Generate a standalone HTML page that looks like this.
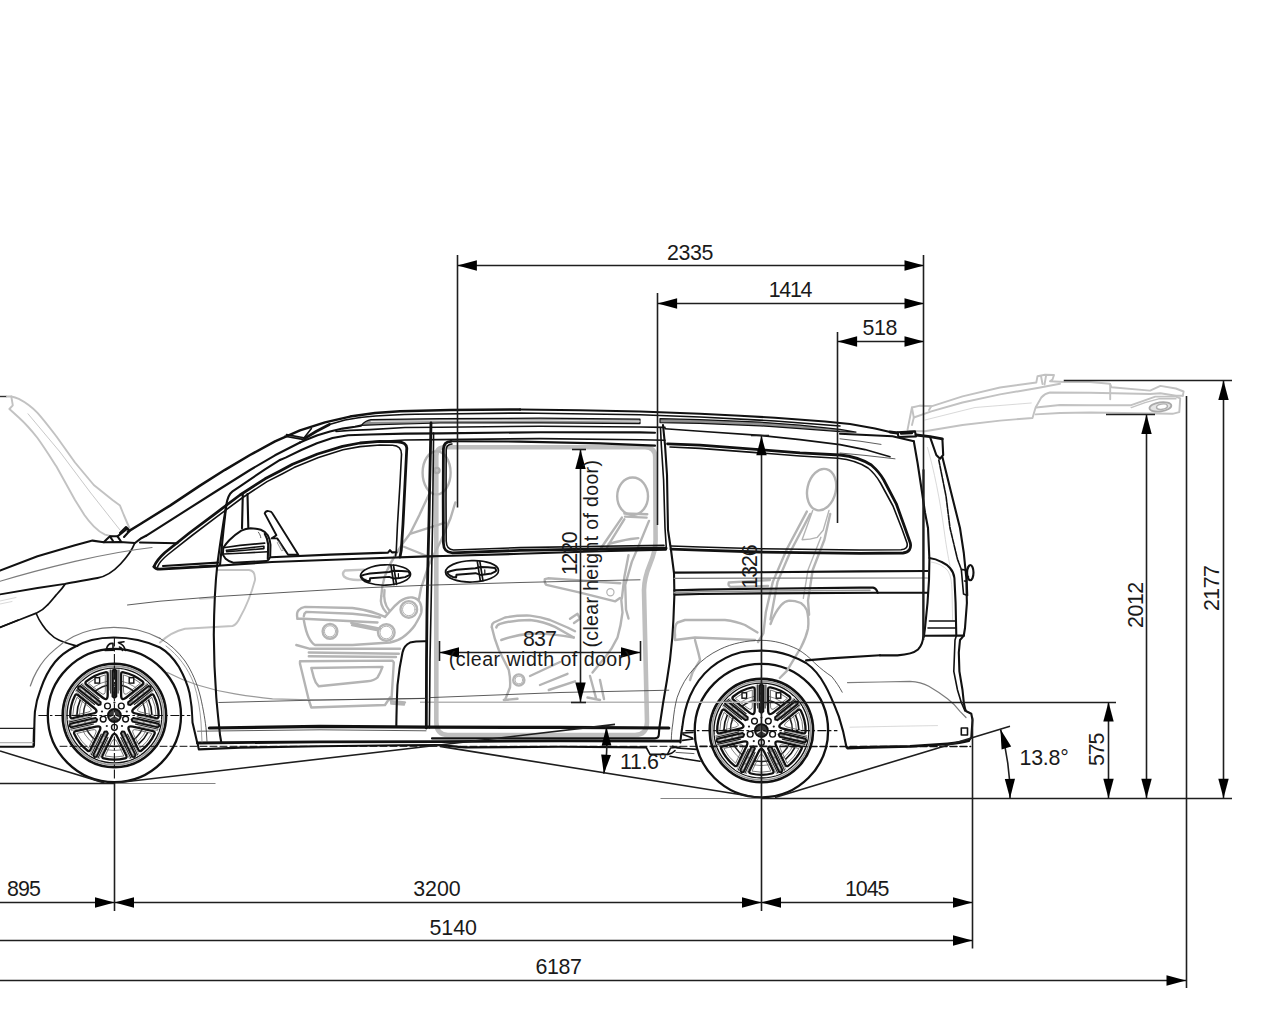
<!DOCTYPE html>
<html lang="en"><head><meta charset="utf-8"><title>Vehicle dimensions</title>
<style>
html,body{margin:0;padding:0;background:#fff;}
body{width:1280px;height:1024px;overflow:hidden;}
svg{display:block;}
text{font-family:"Liberation Sans",sans-serif;font-size:21.4px;fill:#1a1a1a;}
.d{stroke:#1e1e1e;stroke-width:1.6;fill:none;}
.a{fill:#000;stroke:none;}
.k{stroke:#111;fill:none;stroke-width:1.6;stroke-linecap:round;stroke-linejoin:round;}
.k2{stroke:#111;fill:none;stroke-width:2.1;stroke-linecap:round;stroke-linejoin:round;}
.k3{stroke:#111;fill:none;stroke-width:2.8;stroke-linecap:round;stroke-linejoin:round;}
.t{stroke:#333;fill:none;stroke-width:0.8;stroke-linecap:round;stroke-linejoin:round;}
.g{stroke:#c2c2c2;fill:none;stroke-width:1.9;stroke-linecap:round;stroke-linejoin:round;}
.g2{stroke:#c4c4c4;fill:none;stroke-width:2;stroke-linecap:round;stroke-linejoin:round;}
.m{stroke:#7c7c7c;fill:none;stroke-width:1.2;stroke-linecap:round;stroke-linejoin:round;}
.gt{stroke:#cfcfcf;fill:none;stroke-width:0.8;stroke-linecap:round;stroke-linejoin:round;}
</style></head><body>
<svg width="1280" height="1024" viewBox="0 0 1280 1024">
<rect width="1280" height="1024" fill="#fff"/>
<g id="wheels">
<circle cx="114.4" cy="715.5" r="66.6" fill="#fff" stroke="#111" stroke-width="2.3"/>
<circle cx="114.4" cy="715.5" r="31" fill="none" stroke="#222" stroke-width="1.5"/>
<circle cx="114.4" cy="715.5" r="35" fill="none" stroke="#888" stroke-width="1"/>
<circle cx="114.4" cy="715.5" r="51.7" fill="none" stroke="#111" stroke-width="2.6"/>
<circle cx="114.4" cy="715.5" r="49.4" fill="none" stroke="#9a9a9a" stroke-width="1.6"/>
<circle cx="114.4" cy="715.5" r="47.4" fill="none" stroke="#111" stroke-width="1.3"/>
<polygon points="107.7,703.5 107.7,668.9 121.1,668.9 121.1,703.5" fill="#fff" stroke="none"/>
<polygon points="119.6,702.8 146.7,681.2 155.0,691.7 128.0,713.3" fill="#fff" stroke="none"/>
<polygon points="127.6,711.6 161.3,719.3 158.3,732.4 124.6,724.7" fill="#fff" stroke="none"/>
<polygon points="125.6,723.4 140.7,754.6 128.6,760.4 113.6,729.2" fill="#fff" stroke="none"/>
<polygon points="115.2,729.2 100.2,760.4 88.1,754.6 103.2,723.4" fill="#fff" stroke="none"/>
<polygon points="104.2,724.7 70.5,732.4 67.5,719.3 101.2,711.6" fill="#fff" stroke="none"/>
<polygon points="100.8,713.3 73.8,691.7 82.1,681.2 109.2,702.8" fill="#fff" stroke="none"/>
<circle cx="114.4" cy="715.5" r="16.5" fill="#fff" stroke="none"/>
<path d="M121.1,674.2 Q121.1,671.8 123.5,672.3 A44.2,44.2 0 0 1 142.5,681.4 Q144.4,683.0 142.5,684.5 L126.3,697.5 Q121.1,701.6 121.1,695.0 Z" fill="none" stroke="#111" stroke-width="2.3" stroke-linejoin="round"/>
<path d="M123.5,674.9 A41.6,41.6 0 0 1 140.5,683.1 L128.7,692.5 Q123.3,697.0 123.5,690.0 Z" fill="none" stroke="#555" stroke-width="0.8" stroke-linejoin="round"/>
<polygon points="112.5,696.5 112.5,670.5 114.4,669.3 116.3,670.5 116.3,696.5 114.4,697.9" fill="#333" stroke="#111" stroke-width="1.9" stroke-linejoin="round"/>
<line x1="114.4" y1="691.5" x2="114.4" y2="672.5" stroke="#eee" stroke-width="0.9" stroke-dasharray="5 2"/>
<line x1="110.7" y1="693.5" x2="110.7" y2="669.5" stroke="#222" stroke-width="1.1"/>
<line x1="109.2" y1="690.5" x2="109.2" y2="669.5" stroke="#777" stroke-width="0.8"/>
<line x1="118.1" y1="693.5" x2="118.1" y2="669.5" stroke="#222" stroke-width="1.1"/>
<line x1="119.6" y1="690.5" x2="119.6" y2="669.5" stroke="#777" stroke-width="0.8"/>
<path d="M150.9,695.0 Q152.7,693.5 153.9,695.7 A44.2,44.2 0 0 1 158.6,716.2 Q158.5,718.7 156.1,718.2 L135.9,713.5 Q129.4,712.1 134.6,708.0 Z" fill="none" stroke="#111" stroke-width="2.3" stroke-linejoin="round"/>
<path d="M151.8,697.3 A41.6,41.6 0 0 1 156.0,715.7 L141.3,712.3 Q134.4,710.9 140.0,706.7 Z" fill="none" stroke="#555" stroke-width="0.8" stroke-linejoin="round"/>
<polygon points="128.1,702.2 148.4,686.0 150.5,686.7 150.8,688.9 130.4,705.1 128.2,704.5" fill="#888" stroke="#111" stroke-width="1.9" stroke-linejoin="round"/>
<line x1="133.2" y1="700.5" x2="148.0" y2="688.7" stroke="#eee" stroke-width="0.9" stroke-dasharray="5 2"/>
<line x1="129.3" y1="698.9" x2="148.1" y2="683.9" stroke="#222" stroke-width="1.1"/>
<line x1="130.7" y1="695.8" x2="147.1" y2="682.8" stroke="#777" stroke-width="0.8"/>
<line x1="133.9" y1="704.7" x2="152.7" y2="689.7" stroke="#222" stroke-width="1.1"/>
<line x1="137.2" y1="704.0" x2="153.6" y2="690.9" stroke="#777" stroke-width="0.8"/>
<path d="M153.2,731.2 Q155.5,731.8 154.5,734.0 A44.2,44.2 0 0 1 141.4,750.5 Q139.4,752.0 138.4,749.8 L129.3,731.1 Q126.4,725.1 132.9,726.6 Z" fill="none" stroke="#111" stroke-width="2.3" stroke-linejoin="round"/>
<path d="M151.9,733.4 A41.6,41.6 0 0 1 140.2,748.1 L133.7,734.5 Q130.4,728.3 137.2,730.0 Z" fill="none" stroke="#555" stroke-width="0.8" stroke-linejoin="round"/>
<polygon points="133.3,717.9 158.7,723.7 159.4,725.8 157.8,727.4 132.5,721.6 131.6,719.4" fill="#888" stroke="#111" stroke-width="1.9" stroke-linejoin="round"/>
<line x1="137.8" y1="720.8" x2="156.3" y2="725.1" stroke="#eee" stroke-width="0.9" stroke-dasharray="5 2"/>
<line x1="136.7" y1="716.8" x2="160.1" y2="722.1" stroke="#222" stroke-width="1.1"/>
<line x1="139.9" y1="716.0" x2="160.4" y2="720.7" stroke="#777" stroke-width="0.8"/>
<line x1="135.0" y1="724.0" x2="158.4" y2="729.3" stroke="#222" stroke-width="1.1"/>
<line x1="137.6" y1="726.1" x2="158.1" y2="730.8" stroke="#777" stroke-width="0.8"/>
<path d="M126.3,755.6 Q127.3,757.8 124.9,758.4 A44.2,44.2 0 0 1 103.9,758.4 Q101.5,757.8 102.5,755.6 L111.5,736.9 Q114.4,730.9 117.3,736.9 Z" fill="none" stroke="#111" stroke-width="2.3" stroke-linejoin="round"/>
<path d="M123.8,756.0 A41.6,41.6 0 0 1 105.0,756.0 L111.5,742.4 Q114.4,736.0 117.3,742.4 Z" fill="none" stroke="#555" stroke-width="0.8" stroke-linejoin="round"/>
<polygon points="124.4,731.8 135.6,755.2 134.4,757.1 132.2,756.9 120.9,733.4 122.0,731.4" fill="#888" stroke="#111" stroke-width="1.9" stroke-linejoin="round"/>
<line x1="124.8" y1="737.1" x2="133.1" y2="754.2" stroke="#eee" stroke-width="0.9" stroke-dasharray="5 2"/>
<line x1="127.3" y1="733.7" x2="137.7" y2="755.3" stroke="#222" stroke-width="1.1"/>
<line x1="129.9" y1="735.8" x2="139.0" y2="754.7" stroke="#777" stroke-width="0.8"/>
<line x1="120.6" y1="736.9" x2="131.0" y2="758.5" stroke="#222" stroke-width="1.1"/>
<line x1="120.6" y1="740.3" x2="129.7" y2="759.2" stroke="#777" stroke-width="0.8"/>
<path d="M90.4,749.8 Q89.4,752.0 87.4,750.5 A44.2,44.2 0 0 1 74.3,734.0 Q73.3,731.8 75.6,731.2 L95.9,726.6 Q102.4,725.1 99.5,731.1 Z" fill="none" stroke="#111" stroke-width="2.3" stroke-linejoin="round"/>
<path d="M88.6,748.1 A41.6,41.6 0 0 1 76.9,733.4 L91.6,730.0 Q98.4,728.3 95.1,734.5 Z" fill="none" stroke="#555" stroke-width="0.8" stroke-linejoin="round"/>
<polygon points="107.9,733.4 96.6,756.9 94.4,757.1 93.2,755.2 104.4,731.8 106.8,731.4" fill="#888" stroke="#111" stroke-width="1.9" stroke-linejoin="round"/>
<line x1="104.0" y1="737.1" x2="95.7" y2="754.2" stroke="#eee" stroke-width="0.9" stroke-dasharray="5 2"/>
<line x1="108.2" y1="736.9" x2="97.8" y2="758.5" stroke="#222" stroke-width="1.1"/>
<line x1="108.2" y1="740.3" x2="99.1" y2="759.2" stroke="#777" stroke-width="0.8"/>
<line x1="101.5" y1="733.7" x2="91.1" y2="755.3" stroke="#222" stroke-width="1.1"/>
<line x1="98.9" y1="735.8" x2="89.8" y2="754.7" stroke="#777" stroke-width="0.8"/>
<path d="M72.7,718.2 Q70.3,718.7 70.2,716.2 A44.2,44.2 0 0 1 74.9,695.7 Q76.1,693.5 77.9,695.0 L94.2,708.0 Q99.4,712.1 92.9,713.5 Z" fill="none" stroke="#111" stroke-width="2.3" stroke-linejoin="round"/>
<path d="M72.8,715.7 A41.6,41.6 0 0 1 77.0,697.3 L88.8,706.7 Q94.4,710.9 87.5,712.3 Z" fill="none" stroke="#555" stroke-width="0.8" stroke-linejoin="round"/>
<polygon points="96.3,721.6 71.0,727.4 69.4,725.8 70.1,723.7 95.5,717.9 97.2,719.4" fill="#888" stroke="#111" stroke-width="1.9" stroke-linejoin="round"/>
<line x1="91.0" y1="720.8" x2="72.5" y2="725.1" stroke="#eee" stroke-width="0.9" stroke-dasharray="5 2"/>
<line x1="93.8" y1="724.0" x2="70.4" y2="729.3" stroke="#222" stroke-width="1.1"/>
<line x1="91.2" y1="726.1" x2="70.7" y2="730.8" stroke="#777" stroke-width="0.8"/>
<line x1="92.1" y1="716.8" x2="68.7" y2="722.1" stroke="#222" stroke-width="1.1"/>
<line x1="88.9" y1="716.0" x2="68.4" y2="720.7" stroke="#777" stroke-width="0.8"/>
<path d="M86.3,684.5 Q84.4,683.0 86.3,681.4 A44.2,44.2 0 0 1 105.3,672.3 Q107.7,671.8 107.7,674.2 L107.7,695.0 Q107.7,701.6 102.5,697.5 Z" fill="none" stroke="#111" stroke-width="2.3" stroke-linejoin="round"/>
<path d="M88.3,683.1 A41.6,41.6 0 0 1 105.3,674.9 L105.3,690.0 Q105.5,697.0 100.1,692.5 Z" fill="none" stroke="#555" stroke-width="0.8" stroke-linejoin="round"/>
<polygon points="98.4,705.1 78.0,688.9 78.3,686.7 80.4,686.0 100.7,702.2 100.6,704.5" fill="#888" stroke="#111" stroke-width="1.9" stroke-linejoin="round"/>
<line x1="95.6" y1="700.5" x2="80.8" y2="688.7" stroke="#eee" stroke-width="0.9" stroke-dasharray="5 2"/>
<line x1="94.9" y1="704.7" x2="76.1" y2="689.7" stroke="#222" stroke-width="1.1"/>
<line x1="91.6" y1="704.0" x2="75.2" y2="690.9" stroke="#777" stroke-width="0.8"/>
<line x1="99.5" y1="698.9" x2="80.7" y2="683.9" stroke="#222" stroke-width="1.1"/>
<line x1="98.1" y1="695.8" x2="81.7" y2="682.8" stroke="#777" stroke-width="0.8"/>
<rect x="129.2" y="677.7" width="4.6" height="5.4" fill="#fff" stroke="#111" stroke-width="1.4"/>
<rect x="95.0" y="677.7" width="4.6" height="5.4" fill="#fff" stroke="#111" stroke-width="1.4"/>
<path d="M148.4,699.7 A37.5,37.5 0 0 1 151.9,714.8" fill="none" stroke="#111" stroke-width="1.6"/>
<path d="M76.9,714.8 A37.5,37.5 0 0 1 80.4,699.7" fill="none" stroke="#111" stroke-width="1.6"/>
<path d="M147.8,732.5 A37.5,37.5 0 0 1 138.5,744.2" fill="none" stroke="#111" stroke-width="1.6"/>
<circle cx="107.5" cy="706.0" r="2.9" fill="#fff" stroke="#111" stroke-width="1.4"/>
<circle cx="114.4" cy="702.5" r="1.1" fill="#222" stroke="none"/>
<circle cx="121.3" cy="706.0" r="2.9" fill="#fff" stroke="#111" stroke-width="1.4"/>
<circle cx="126.8" cy="711.5" r="1.1" fill="#222" stroke="none"/>
<circle cx="125.6" cy="719.1" r="2.9" fill="#fff" stroke="#111" stroke-width="1.4"/>
<circle cx="122.0" cy="726.0" r="1.1" fill="#222" stroke="none"/>
<circle cx="114.4" cy="727.3" r="2.9" fill="#fff" stroke="#111" stroke-width="1.4"/>
<circle cx="106.8" cy="726.0" r="1.1" fill="#222" stroke="none"/>
<circle cx="103.2" cy="719.1" r="2.9" fill="#fff" stroke="#111" stroke-width="1.4"/>
<circle cx="102.0" cy="711.5" r="1.1" fill="#222" stroke="none"/>
<circle cx="114.4" cy="715.5" r="6.4" fill="#3a3a3a" stroke="#111" stroke-width="2"/>
<line x1="114.4" y1="715.5" x2="114.4" y2="710.1" stroke="#eee" stroke-width="1.2"/>
<line x1="114.4" y1="715.5" x2="119.1" y2="718.2" stroke="#eee" stroke-width="1.2"/>
<line x1="114.4" y1="715.5" x2="109.7" y2="718.2" stroke="#eee" stroke-width="1.2"/>
<line x1="38.4" y1="715.5" x2="190.4" y2="715.5" stroke="#111" stroke-width="1.1" stroke-dasharray="9 2.5 2.5 2.5"/>
<line x1="114.4" y1="637.5" x2="114.4" y2="783.0" stroke="#111" stroke-width="1.1" stroke-dasharray="9 2.5 2.5 2.5"/>
<circle cx="761.4" cy="730.6" r="66.7" fill="#fff" stroke="#111" stroke-width="2.3"/>
<circle cx="761.4" cy="730.6" r="31" fill="none" stroke="#222" stroke-width="1.5"/>
<circle cx="761.4" cy="730.6" r="35" fill="none" stroke="#888" stroke-width="1"/>
<circle cx="761.4" cy="730.6" r="51.7" fill="none" stroke="#111" stroke-width="2.6"/>
<circle cx="761.4" cy="730.6" r="49.4" fill="none" stroke="#9a9a9a" stroke-width="1.6"/>
<circle cx="761.4" cy="730.6" r="47.4" fill="none" stroke="#111" stroke-width="1.3"/>
<polygon points="754.7,718.6 754.7,684.0 768.1,684.0 768.1,718.6" fill="#fff" stroke="none"/>
<polygon points="766.6,717.9 793.7,696.3 802.0,706.8 775.0,728.4" fill="#fff" stroke="none"/>
<polygon points="774.6,726.7 808.3,734.4 805.3,747.5 771.6,739.8" fill="#fff" stroke="none"/>
<polygon points="772.6,738.5 787.7,769.7 775.6,775.5 760.6,744.3" fill="#fff" stroke="none"/>
<polygon points="762.2,744.3 747.2,775.5 735.1,769.7 750.2,738.5" fill="#fff" stroke="none"/>
<polygon points="751.2,739.8 717.5,747.5 714.5,734.4 748.2,726.7" fill="#fff" stroke="none"/>
<polygon points="747.8,728.4 720.8,706.8 729.1,696.3 756.2,717.9" fill="#fff" stroke="none"/>
<circle cx="761.4" cy="730.6" r="16.5" fill="#fff" stroke="none"/>
<path d="M768.1,689.3 Q768.1,686.9 770.5,687.4 A44.2,44.2 0 0 1 789.5,696.5 Q791.4,698.1 789.5,699.6 L773.3,712.6 Q768.1,716.7 768.1,710.1 Z" fill="none" stroke="#111" stroke-width="2.3" stroke-linejoin="round"/>
<path d="M770.5,690.0 A41.6,41.6 0 0 1 787.5,698.2 L775.7,707.6 Q770.3,712.1 770.5,705.1 Z" fill="none" stroke="#555" stroke-width="0.8" stroke-linejoin="round"/>
<polygon points="759.5,711.6 759.5,685.6 761.4,684.4 763.3,685.6 763.3,711.6 761.4,713.0" fill="#333" stroke="#111" stroke-width="1.9" stroke-linejoin="round"/>
<line x1="761.4" y1="706.6" x2="761.4" y2="687.6" stroke="#eee" stroke-width="0.9" stroke-dasharray="5 2"/>
<line x1="757.7" y1="708.6" x2="757.7" y2="684.6" stroke="#222" stroke-width="1.1"/>
<line x1="756.2" y1="705.6" x2="756.2" y2="684.6" stroke="#777" stroke-width="0.8"/>
<line x1="765.1" y1="708.6" x2="765.1" y2="684.6" stroke="#222" stroke-width="1.1"/>
<line x1="766.6" y1="705.6" x2="766.6" y2="684.6" stroke="#777" stroke-width="0.8"/>
<path d="M797.9,710.1 Q799.7,708.6 800.9,710.8 A44.2,44.2 0 0 1 805.6,731.3 Q805.5,733.8 803.1,733.3 L782.9,728.6 Q776.4,727.2 781.6,723.1 Z" fill="none" stroke="#111" stroke-width="2.3" stroke-linejoin="round"/>
<path d="M798.8,712.4 A41.6,41.6 0 0 1 803.0,730.8 L788.3,727.4 Q781.4,726.0 787.0,721.8 Z" fill="none" stroke="#555" stroke-width="0.8" stroke-linejoin="round"/>
<polygon points="775.1,717.3 795.4,701.1 797.5,701.8 797.8,704.0 777.4,720.2 775.2,719.6" fill="#888" stroke="#111" stroke-width="1.9" stroke-linejoin="round"/>
<line x1="780.2" y1="715.6" x2="795.0" y2="703.8" stroke="#eee" stroke-width="0.9" stroke-dasharray="5 2"/>
<line x1="776.3" y1="714.0" x2="795.1" y2="699.0" stroke="#222" stroke-width="1.1"/>
<line x1="777.7" y1="710.9" x2="794.1" y2="697.9" stroke="#777" stroke-width="0.8"/>
<line x1="780.9" y1="719.8" x2="799.7" y2="704.8" stroke="#222" stroke-width="1.1"/>
<line x1="784.2" y1="719.1" x2="800.6" y2="706.0" stroke="#777" stroke-width="0.8"/>
<path d="M800.2,746.3 Q802.5,746.9 801.5,749.1 A44.2,44.2 0 0 1 788.4,765.6 Q786.4,767.1 785.4,764.9 L776.3,746.2 Q773.4,740.2 779.9,741.7 Z" fill="none" stroke="#111" stroke-width="2.3" stroke-linejoin="round"/>
<path d="M798.9,748.5 A41.6,41.6 0 0 1 787.2,763.2 L780.7,749.6 Q777.4,743.4 784.2,745.1 Z" fill="none" stroke="#555" stroke-width="0.8" stroke-linejoin="round"/>
<polygon points="780.3,733.0 805.7,738.8 806.4,740.9 804.8,742.5 779.5,736.7 778.6,734.5" fill="#888" stroke="#111" stroke-width="1.9" stroke-linejoin="round"/>
<line x1="784.8" y1="735.9" x2="803.3" y2="740.2" stroke="#eee" stroke-width="0.9" stroke-dasharray="5 2"/>
<line x1="783.7" y1="731.9" x2="807.1" y2="737.2" stroke="#222" stroke-width="1.1"/>
<line x1="786.9" y1="731.1" x2="807.4" y2="735.8" stroke="#777" stroke-width="0.8"/>
<line x1="782.0" y1="739.1" x2="805.4" y2="744.4" stroke="#222" stroke-width="1.1"/>
<line x1="784.6" y1="741.2" x2="805.1" y2="745.9" stroke="#777" stroke-width="0.8"/>
<path d="M773.3,770.7 Q774.3,772.9 771.9,773.5 A44.2,44.2 0 0 1 750.9,773.5 Q748.5,772.9 749.5,770.7 L758.5,752.0 Q761.4,746.0 764.3,752.0 Z" fill="none" stroke="#111" stroke-width="2.3" stroke-linejoin="round"/>
<path d="M770.8,771.1 A41.6,41.6 0 0 1 752.0,771.1 L758.5,757.5 Q761.4,751.1 764.3,757.5 Z" fill="none" stroke="#555" stroke-width="0.8" stroke-linejoin="round"/>
<polygon points="771.4,746.9 782.6,770.3 781.4,772.2 779.2,772.0 767.9,748.5 769.0,746.5" fill="#888" stroke="#111" stroke-width="1.9" stroke-linejoin="round"/>
<line x1="771.8" y1="752.2" x2="780.1" y2="769.3" stroke="#eee" stroke-width="0.9" stroke-dasharray="5 2"/>
<line x1="774.3" y1="748.8" x2="784.7" y2="770.4" stroke="#222" stroke-width="1.1"/>
<line x1="776.9" y1="750.9" x2="786.0" y2="769.8" stroke="#777" stroke-width="0.8"/>
<line x1="767.6" y1="752.0" x2="778.0" y2="773.6" stroke="#222" stroke-width="1.1"/>
<line x1="767.6" y1="755.4" x2="776.7" y2="774.3" stroke="#777" stroke-width="0.8"/>
<path d="M737.4,764.9 Q736.4,767.1 734.4,765.6 A44.2,44.2 0 0 1 721.3,749.1 Q720.3,746.9 722.6,746.3 L742.9,741.7 Q749.4,740.2 746.5,746.2 Z" fill="none" stroke="#111" stroke-width="2.3" stroke-linejoin="round"/>
<path d="M735.6,763.2 A41.6,41.6 0 0 1 723.9,748.5 L738.6,745.1 Q745.4,743.4 742.1,749.6 Z" fill="none" stroke="#555" stroke-width="0.8" stroke-linejoin="round"/>
<polygon points="754.9,748.5 743.6,772.0 741.4,772.2 740.2,770.3 751.4,746.9 753.8,746.5" fill="#888" stroke="#111" stroke-width="1.9" stroke-linejoin="round"/>
<line x1="751.0" y1="752.2" x2="742.7" y2="769.3" stroke="#eee" stroke-width="0.9" stroke-dasharray="5 2"/>
<line x1="755.2" y1="752.0" x2="744.8" y2="773.6" stroke="#222" stroke-width="1.1"/>
<line x1="755.2" y1="755.4" x2="746.1" y2="774.3" stroke="#777" stroke-width="0.8"/>
<line x1="748.5" y1="748.8" x2="738.1" y2="770.4" stroke="#222" stroke-width="1.1"/>
<line x1="745.9" y1="750.9" x2="736.8" y2="769.8" stroke="#777" stroke-width="0.8"/>
<path d="M719.7,733.3 Q717.3,733.8 717.2,731.3 A44.2,44.2 0 0 1 721.9,710.8 Q723.1,708.6 724.9,710.1 L741.2,723.1 Q746.4,727.2 739.9,728.6 Z" fill="none" stroke="#111" stroke-width="2.3" stroke-linejoin="round"/>
<path d="M719.8,730.8 A41.6,41.6 0 0 1 724.0,712.4 L735.8,721.8 Q741.4,726.0 734.5,727.4 Z" fill="none" stroke="#555" stroke-width="0.8" stroke-linejoin="round"/>
<polygon points="743.3,736.7 718.0,742.5 716.4,740.9 717.1,738.8 742.5,733.0 744.2,734.5" fill="#888" stroke="#111" stroke-width="1.9" stroke-linejoin="round"/>
<line x1="738.0" y1="735.9" x2="719.5" y2="740.2" stroke="#eee" stroke-width="0.9" stroke-dasharray="5 2"/>
<line x1="740.8" y1="739.1" x2="717.4" y2="744.4" stroke="#222" stroke-width="1.1"/>
<line x1="738.2" y1="741.2" x2="717.7" y2="745.9" stroke="#777" stroke-width="0.8"/>
<line x1="739.1" y1="731.9" x2="715.7" y2="737.2" stroke="#222" stroke-width="1.1"/>
<line x1="735.9" y1="731.1" x2="715.4" y2="735.8" stroke="#777" stroke-width="0.8"/>
<path d="M733.3,699.6 Q731.4,698.1 733.3,696.5 A44.2,44.2 0 0 1 752.3,687.4 Q754.7,686.9 754.7,689.3 L754.7,710.1 Q754.7,716.7 749.5,712.6 Z" fill="none" stroke="#111" stroke-width="2.3" stroke-linejoin="round"/>
<path d="M735.3,698.2 A41.6,41.6 0 0 1 752.3,690.0 L752.3,705.1 Q752.5,712.1 747.1,707.6 Z" fill="none" stroke="#555" stroke-width="0.8" stroke-linejoin="round"/>
<polygon points="745.4,720.2 725.0,704.0 725.3,701.8 727.4,701.1 747.7,717.3 747.6,719.6" fill="#888" stroke="#111" stroke-width="1.9" stroke-linejoin="round"/>
<line x1="742.6" y1="715.6" x2="727.8" y2="703.8" stroke="#eee" stroke-width="0.9" stroke-dasharray="5 2"/>
<line x1="741.9" y1="719.8" x2="723.1" y2="704.8" stroke="#222" stroke-width="1.1"/>
<line x1="738.6" y1="719.1" x2="722.2" y2="706.0" stroke="#777" stroke-width="0.8"/>
<line x1="746.5" y1="714.0" x2="727.7" y2="699.0" stroke="#222" stroke-width="1.1"/>
<line x1="745.1" y1="710.9" x2="728.7" y2="697.9" stroke="#777" stroke-width="0.8"/>
<rect x="776.2" y="692.8" width="4.6" height="5.4" fill="#fff" stroke="#111" stroke-width="1.4"/>
<rect x="742.0" y="692.8" width="4.6" height="5.4" fill="#fff" stroke="#111" stroke-width="1.4"/>
<path d="M795.4,714.8 A37.5,37.5 0 0 1 798.9,729.9" fill="none" stroke="#111" stroke-width="1.6"/>
<path d="M723.9,729.9 A37.5,37.5 0 0 1 727.4,714.8" fill="none" stroke="#111" stroke-width="1.6"/>
<path d="M794.8,747.6 A37.5,37.5 0 0 1 785.5,759.3" fill="none" stroke="#111" stroke-width="1.6"/>
<circle cx="754.5" cy="721.1" r="2.9" fill="#fff" stroke="#111" stroke-width="1.4"/>
<circle cx="761.4" cy="717.6" r="1.1" fill="#222" stroke="none"/>
<circle cx="768.3" cy="721.1" r="2.9" fill="#fff" stroke="#111" stroke-width="1.4"/>
<circle cx="773.8" cy="726.6" r="1.1" fill="#222" stroke="none"/>
<circle cx="772.6" cy="734.2" r="2.9" fill="#fff" stroke="#111" stroke-width="1.4"/>
<circle cx="769.0" cy="741.1" r="1.1" fill="#222" stroke="none"/>
<circle cx="761.4" cy="742.4" r="2.9" fill="#fff" stroke="#111" stroke-width="1.4"/>
<circle cx="753.8" cy="741.1" r="1.1" fill="#222" stroke="none"/>
<circle cx="750.2" cy="734.2" r="2.9" fill="#fff" stroke="#111" stroke-width="1.4"/>
<circle cx="749.0" cy="726.6" r="1.1" fill="#222" stroke="none"/>
<circle cx="761.4" cy="730.6" r="6.4" fill="#3a3a3a" stroke="#111" stroke-width="2"/>
<line x1="761.4" y1="730.6" x2="761.4" y2="725.2" stroke="#eee" stroke-width="1.2"/>
<line x1="761.4" y1="730.6" x2="766.1" y2="733.3" stroke="#eee" stroke-width="1.2"/>
<line x1="761.4" y1="730.6" x2="756.7" y2="733.3" stroke="#eee" stroke-width="1.2"/>
<line x1="685.4" y1="730.6" x2="837.4" y2="730.6" stroke="#111" stroke-width="1.1" stroke-dasharray="9 2.5 2.5 2.5"/>
<line x1="761.4" y1="652.6" x2="761.4" y2="798.2" stroke="#111" stroke-width="1.1" stroke-dasharray="9 2.5 2.5 2.5"/>
</g>
<!-- 10_gray_open.svg -->
<g id="gray-open">
<!-- open tailgate -->
<path class="g" d="M907.5,430 L911.9,407.5 L920,405.6 L931.3,406.3 L962.5,396.3 L1000,387.5 L1036.3,382.5 L1037.5,376.3 L1045,374.8 L1054,375 L1052.5,379.5 L1050,381.3 L1065,382 L1090,382 L1109.8,383.7 L1111.5,387.2 L1150.1,390.6 L1160.4,385.9 L1175.9,388.5 L1183.6,391.5 L1182.8,395.8"/>
<path class="g" d="M911.9,407.5 L913.8,417.5 L931.3,411.3 L962.5,402.5 L1000,394.4 L1037.5,388 L1060,383.8"/>
<path class="g" d="M920,405.6 L931.3,406.3 L929,410 M913.8,417.5 L912,425"/>
<path class="gt" d="M925,420 L975,407.5 L1031.3,403"/>
<path class="g" d="M909,431 L925,431.3 L962.5,425 L1000,420.6 L1032.5,418 L1035.6,407.5 L1041.3,397.5 C1044,394.5 1047,393 1050,392.5 L1090,392.8 L1150.1,394 L1160.4,393.2 L1175.9,395.8 L1182.8,395.8"/>
<path class="g" d="M1036,407.5 L1060,405 L1090,405.2 L1131.2,405.2 L1143.3,400.9 L1155.3,396.6 L1175.9,396.6 L1180.2,398.4 L1179.3,412.1 L1172.5,413.8 M1035.6,414.4 L1060,413 L1090,412.5 L1172.5,413.8"/>
<path class="g" style="stroke-width:1.4" d="M1131.2,407.6 L1145,402.6 L1158.7,398.8 L1176,398.8"/>
<path class="g" d="M1110.2,384 L1110.2,399.2 M1041,376 L1042.5,384 M1046,376 L1044.5,384.5"/>
<g transform="rotate(-8 1160.4 406.9)"><ellipse cx="1160.4" cy="406.9" rx="11" ry="4.6" fill="#e4e4e4" stroke="#aaa" stroke-width="1.8"/><ellipse cx="1162" cy="406.9" rx="5.5" ry="2.6" fill="#fff" stroke="#b0b0b0" stroke-width="1.4"/></g>
<!-- open hood -->
<path d="M0,396.5 L7,396.5" stroke="#333" stroke-width="1.4" fill="none"/>
<path class="g" d="M7,396.5 L11.3,396.5 C14,397 16.5,397.8 18.8,398.8 C26,402.5 32,407 37.5,412.8 C44,420 50,428 56.3,436.3 L75,462.5 L93.8,485 L112.5,500 L120,505.6 L123.8,515 L129.4,528"/>
<path class="g" d="M11.3,396.5 L12.8,405.3 L9.4,409 L18.8,417.5 C26,424 32,431 37.5,438 C44,447 50,456.5 56.3,466.3 L75,500 L84.4,515 C87.5,519.5 90.5,523 93.8,526.3 C97.5,530 101,532.8 105,534.7 L112.5,536.5"/>
<path class="gt" d="M28,413.8 L60,452 L90,492 L120,530" style="stroke:#bbb"/>
</g>

<!-- 11_gray_interior.svg -->
<g id="gray-interior">
<!-- clear door opening (thick gray) -->
<path d="M436.3,722 L436.3,456 Q436.3,447.2 445,447.2 L645,447.2 Q655.2,447.2 655.2,457 L655.6,540 C655.6,562 644.4,566 644,590 L647,722 Q647,735 635,735 L448,735 Q436.3,735 436.3,722 Z" fill="none" stroke="#bfbfbf" stroke-width="4.6"/>
<!-- floor line gray -->
<path d="M420,702.2 L760,702.2" stroke="#b5b5b5" stroke-width="1.4" fill="none"/>
<!-- front door inner panel -->
<path class="g" d="M217.5,570 L249,570 C253,570.4 255.4,574 255,580 C251,595 246,607 240,617.5 C238,622 236,625 232.5,626 L185,628.8 C175,631 167,636 160,642.5"/>
<path class="g" d="M200,598.8 L213,598" style="stroke:#d0d0d0"/>
<!-- lower body gray crease -->
<path class="m" d="M167.5,672.5 C178,678 188,682 197.5,685 C210,689 222,691.8 235,693.8 C248,696 260,697.6 272.5,698.8 L320,700 L426,698.4" style="stroke:#9a9a9a"/>
<!-- front seat -->
<g class="g2" style="stroke-width:2.4;stroke:#b4b4b4">
<path d="M297.5,618.8 C296.5,614 297,611.5 298.8,610 C300.5,608 302.5,607.2 305,606.9 L352.5,608 C362,609 370,611 377.5,613.8 L385,616.9"/>
<path d="M303.8,616.3 C304,614 305,612.6 306.3,611.9 L352.5,613.8 C362,614.6 372,616 380,617.5"/>
<path d="M297.5,618.8 L303.8,618.8 L377.5,622.5"/>
<path d="M303.8,620 C305,627 306.5,633 308.8,637.5 C310.5,641 312.5,643.6 315,645 L352.5,645 L390,642.5 C395,641.5 399,640 402.5,637.5 C408,633.5 412,629.5 415,625 C418,620 420.4,616 421.3,612.5 C422,608.5 421.5,605.5 420,602.5 C418.5,599.8 416,598 412.5,597.5 C408,597 403.5,598.8 400,601.3 C396,604.5 393,607.5 390,611.3 L385,616.9"/>
<circle cx="330" cy="631.3" r="7.4"/><circle cx="330" cy="631.3" r="5.6" style="stroke-width:1"/>
<circle cx="386.3" cy="632.5" r="8.3"/><circle cx="386.3" cy="632.5" r="6.3" style="stroke-width:1"/>
<circle cx="408.8" cy="609.4" r="8.3"/><circle cx="408.8" cy="609.4" r="6.3" style="stroke-width:1"/>
<path d="M351.3,623 L380,628.8 M352,625 L378,630.4"/>
<!-- belt / seat back lower -->
<path d="M381.3,596.3 C380.5,600 380,606 386.3,612.5 M384.5,590 C383.5,598 384,604 389,610"/>
<path d="M381.3,596.3 C381.5,590 382.5,584 384.4,577.5 C388,566 395,555 403,543 L410,533.8 L419.4,515 L428.8,494.7"/>
<path d="M455.3,502.5 L450.6,518 L441.3,540 L428.8,565 L421,588.4 L418.8,600"/>
<path d="M410,533.8 L444.4,522.8 M402,546 L432,558"/>
<ellipse cx="436.6" cy="472.8" rx="14" ry="21.6"/>
<circle cx="436.9" cy="470.5" r="2.6" style="stroke:#aaa"/>
<!-- rails -->
<path d="M296.3,645 L310,648.8 L400,648.8 M308.8,652.5 L398.8,653.8 M308.8,656.3 L396,657"/>
<!-- base box -->
<path d="M300,661.3 L392.5,660.6 L393.8,662.5 L391.3,702.5 L390,697.5 L385,705 L311.3,707.5 L308.8,700 L300,663.8 Z"/>
<path d="M311.3,668 L382.5,666.9 C381,671 379.5,674.5 377.5,677.5 C375,680 371.5,681 367.5,681.3 L318.8,686.3 C316,683.5 314.5,680.5 313.8,677.5 Z"/>
<path d="M391.3,701.3 L405,702.5 M391.3,703.6 L404,704.6"/>
<path d="M345,570.5 C343,572 342.6,574.5 344,576.5 C347,579 352,580 358,580 L366,579.6 M345,570.5 L364,569.6" style="stroke:#c4c4c4"/>
</g>
</g>

<!-- 12_gray_seat2.svg -->
<g id="seat2" class="g2" style="stroke-width:2.4;stroke:#b4b4b4">
<ellipse cx="632.6" cy="496.3" rx="15.4" ry="18.8"/>
<path d="M624.4,513.5 L647.3,514.3 M625,516.6 L646.6,517.6"/>
<path d="M621.9,517.6 L600.6,548.8 M624.4,519.2 L607.1,547.1"/>
<path d="M649,520.9 L641.6,538.9 L631.8,561.9 L625.2,584.9 L626,609.5 L628.5,618.5"/>
<path d="M608.8,543.9 C618,541 628,539 638.3,538.1"/>
<path d="M628.5,555.3 L624.4,576.7 L621.9,598 L621.3,600 L622.5,612.5 C621.5,621 620,629 617.5,637.5 C614,645 610,651.5 605,657.5 L592.5,672.5"/>
<!-- armrest -->
<path d="M544.8,579.1 L548,578.3 L620.3,583.2 M544.8,579.1 C544.5,582 545,584 546.4,584.9 L579.2,592.3 L615.3,601.3 L620,598"/>
<circle cx="610.4" cy="592.3" r="3.6" style="stroke-width:1.2"/>
<!-- cushion -->
<path d="M491.9,627.5 C491.5,625 492.2,623.5 493.8,622.5 L505,617.5 C513,616 521,615.4 530,615.6 C537,616.3 544,617.8 550,620 L567.5,627.5 L575,631.3"/>
<path d="M496.3,627.5 C496.5,625.6 498,624.5 500,623.8 C510,621 520,620 530,620 C539,621 548,623.5 555,626.9 L573.8,637.5"/>
<path d="M501.3,640 C510,637 520,634.5 530,633.8 C545,633 560,635 573.8,637.5"/>
<path d="M491.9,627.5 C493.5,635 496,643 498.8,650 L508.8,670 C510,676 510.5,681.5 510,687.5 L505,700"/>
<path d="M570,618.8 L577.5,613.8 L580,618.8 L574,623"/>
<circle cx="518.8" cy="680" r="5.6"/><circle cx="518.8" cy="680" r="3.8" style="stroke-width:1"/>
<path d="M540,685 L567.5,673.8 M548.8,690 L575,681.3 M530,676 L560,662"/>
<path d="M503.8,700 L517.5,698.8 M587.5,697.5 L600,700 M590,676 L596,698 M600,680 L604,699"/>
</g>

<!-- 13_gray_seat3.svg -->
<g id="seat3" class="g2" style="stroke-width:2.4;stroke:#b4b4b4">
<ellipse cx="821.6" cy="489.6" rx="14.2" ry="21" transform="rotate(13 821.6 489.6)"/>
<path d="M806.8,511.6 L786.9,549 L772.8,581.9 L765.8,612.3 L763.4,633.4 L758,642"/>
<path d="M810.3,513.9 L790.5,551.5 L777.5,581.9 L770.5,619.4"/>
<path d="M812.7,510.4 L802.1,539.7 C807,539.6 812.5,538.8 817.3,537.3 L823.2,530.3 L829,510.4" style="stroke-width:1.4"/>
<path d="M830.2,513.9 L824.4,539.7 L812.7,570 L808,600.6 L809.1,614.7"/>
<path d="M820.9,537.3 L808,570 L803.3,598.3" style="stroke-width:1.4"/>
<path d="M770.5,624 C773,617 777,610 781,605.3 C783.5,602.5 786,601 789.2,600.6 C793,600.6 797,601.4 800.9,603 C803.5,604.8 805.6,607 806.8,610 C808.5,616 808.8,622 808,628.7 C806.5,635.5 804,641.5 800.9,647.5 L786.9,670.9 L779.8,678"/>
<path d="M675,635 C674.5,628 675.5,624 677.5,622.5 L685,620 L725,620 C733,621 739,622.5 745,625 L757.5,632.5"/>
<path d="M675,635 L675,640 L695,637.5 L755,640"/>
<path d="M695,640 C697,648 699,654 700,660 L692.5,672.5 L690,680"/>
<path d="M728.8,582.5 L770,580 M728.8,582.5 C728,585 729,586.6 731,587 L768,586"/>
</g>

<!-- 20_front.svg -->
<g id="front">
<!-- hood edge / fender top (thick) -->
<path class="k2" d="M0,570.6 L37.5,556.3 L75,545.2 L92.5,540.6 L103.8,542.3 L107,539 L110,536.3 L117.5,536.3 L127.5,528.5"/>
<path class="k2" d="M103.8,542.3 L120,542 L135,543 L141.3,538.2 L146,535.8"/>
<!-- hinge detail -->
<path class="k2" d="M110,536.5 L113,541 M117.5,536.3 L121,541.5 M120,533 L126,527 L129.5,531 L124,537"/>
<!-- hood/fender shut line curving down -->
<path class="k" style="stroke-width:1.8" d="M134.6,543.5 C132,550 127,557 120.5,564 C113,572 106,576.5 97.5,578 C85,580.5 75,582 65,583.8 L37.5,588 L0,594.4"/>
<!-- headlight lower edge -->
<path class="k" style="stroke-width:1.8" d="M65,584.2 C62,589 59,592 56,595.2 C52,600 50,602.5 47.5,605 C44,609 40,611.5 36.3,613.2 L18.8,620 L0,627.5"/>
<!-- bumper/fender split -->
<path class="k" d="M36.3,613.7 C38,618 40,621.5 42.5,625 C45,629 47.5,631.5 50,633.8 C53,637 56,638.8 58.8,640 C64,642.5 70,644 77.5,646.3"/>
<!-- crease on hood (thin gray) -->
<path class="m" d="M0,581.3 C30,572 55,566 75,561.3 C105,554.5 130,550 152,547.5"/>
<path class="gt" d="M0,601 L16,597.5 M0,604 L12,601.5"/>
<!-- A pillar -->
<path class="k2" style="stroke-width:2.5" d="M128,531.6 L140,524.2 L170,505.6 L200,485.6 L225,469.8 L250,455 L275,441.4 L300,430.4 L325,422.4 L350,416.6 L375,413 L400,411.3 L450,410 L520,409.5"/>
<path class="k2" d="M146,535.8 L215,492 L250,470 L275,455.3 L300,442.5"/>
<!-- window base line -->
<path class="k2" d="M140,542.5 L177.5,543.2"/>
</g>

<!-- 21_roof.svg -->
<g id="roof">
<!-- outer roof continuing -->
<path class="k2" d="M520,409.5 L580,410.3 L640,411.5 L700,413.8 L740,415.8 L775,417.8 L825,421.5 L850,424 L875,428.5 L890,432 L898,433"/>
<path class="k" d="M360,417.5 C380,415.2 400,414.2 440,414 L520,413 L640,414.8 L700,417 L775,421 L840,426"/>
<!-- windshield top trim box -->
<path class="k" d="M284.8,436.3 L302.8,439.4 L311.4,428.4 M286.5,434.6 L303.8,437.8"/>
<path class="k3" d="M304.4,438.6 L316,431.5 L329.4,424.5"/>
<path class="k" d="M329.4,424.5 L345,420 L360,417.5"/>
<!-- L2 from A-pillar 2nd line to roof rail -->
<path class="k2" d="M300,442.5 L305,440.2 L317.5,435.3 L330,431.4 L342.5,428.6 L355,426.8 L361,425.6"/>
<!-- roof rail 1 -->
<path d="M361.2,425.4 C364,422 367,420.2 371,419.6 L440,418.6 L540,418.2 L640,419.2 L640,423.6 L540,422.8 L440,423 L380,424.6 Z" fill="#8f8f8f" stroke="#111" stroke-width="1.2" stroke-linejoin="round"/>
<path class="k" d="M371,421.5 L440,420.6 L540,420.2 L640,421.2" style="stroke:#fff;stroke-width:0.8"/>
<!-- roof rail 2 -->
<path d="M660,418.6 L700,419.6 L760,422.2 L800,425.2 L840,429.4 L856,432.2 L840,431.6 L800,428.6 L760,425.8 L700,423.4 L660,422.6 Z" fill="#8f8f8f" stroke="#111" stroke-width="1.2" stroke-linejoin="round"/>
<!-- L3 -->
<path class="k" d="M336,431.5 L350,430.4 L370,429.6 L405,427.5 L440,427.2 L540,426.2 L640,427 L665,427.4"/>
<!-- L4 thick -->
<path class="k2" d="M280,460 L285.6,457.6 L301.3,450 L316.9,443.3 L332.5,438 L348.1,435.2 L370,434.5 L405,433.6 L440,433.4 L540,432.2 L640,432.4 L655,432.8"/>
<!-- L5 -->
<path class="k" d="M367.5,442 L405,440 L440,439.6 L540,438.6 L640,439.8 L665,440.2"/>
</g>

<!-- 22_doors.svg -->
<g id="doors">
<!-- front door window frame: outer (thick double) -->
<path class="k3" d="M154,566.5 C156,562 160,557 165,552.5 L190,532.5 L215,513.8 L240,495 L265,478.8 L280,471 L292.5,464.3 L317.5,454 L342.5,446.4 L360,443 L380,441.4 L397.5,441.8 C403,442 406.5,444 406.8,448 L405,483.5 L403,524 L401.3,550 L400,557"/>
<path class="k" d="M157.5,567 C159,563 163,558.5 168,554.5 L192,535.5 L217,516.6 L242,498 L267,481.6 L282,474 L294,467.6 L318.5,457.4 L343,449.8 L360,446.6 L380,445 L392.5,445.2 C398,445.4 401.6,448.5 401.5,454.5 L400,483.5 L397.5,524 L396.3,550 L395.6,556"/>
<!-- door frame upper line from front edge -->
<path class="k2" d="M220,565 L223.5,530 L226.3,505 C227.5,497 229.5,493.5 232.5,491.3 L240,486.3 L265,469.4 L280,459.8"/>
<!-- quarter window divider -->
<!-- quarter window bottom & window bottom -->
<path class="k3" d="M154,566.8 C155,568.5 157,569.3 160,569.2 L217.5,565.8"/>
<path class="k2" d="M163,566 L218,562.6"/>
<path class="k2" d="M270.9,557.2 L330,554.6 L388,552.6 L390,550.2 L392,552.4 L396.5,552.2"/>
<!-- beltline -->
<path class="k2" d="M200,566.6 L217.5,565.8 L272,562 L360,558.8 L427,556.4 L443,556 L520,553.8 L600,551.2 L666,549.6"/>
<!-- door front edge -->
<path class="k2" d="M226.3,505 L223.5,522 L220,545 L217.5,563 C215,585 214,610 213.8,635 C213.9,660 215,680 216.3,697.5 C217.5,712 219,725 220,735 L221.3,742.5"/>
<!-- B pillar -->
<path class="k3" d="M431,423 L430,470 L429,520 L428,560 L427,610 L426.5,660 L426.3,728"/>
<path class="k" d="M433.6,433 L432.6,520 L431.2,600 L430,660 L429.4,728"/>
<!-- B pillar lower trim curve -->
<path class="k2" d="M426,641.3 C420,641.2 414,641.6 410,642.6 C405.5,644.5 403.5,648 402.5,652.5 C400,664 398.6,674 397.5,685 C396.8,700 396.5,712 396.3,727"/>
<!-- sliding door window -->
<path class="k3" d="M451,441.3 C446,441.5 443.5,444 443.4,449 L443.2,500 L443.4,543 C443.6,549.5 446,552.6 452.5,552.8 L520,550.4 L600,549 L666,548.2"/>
<path class="k2" d="M451,441.3 L520,441.6 L600,443.4 L655,445.6"/>
<path class="k" d="M452,444 C448.5,444.2 446.3,446 446.2,450 L446,500 L446.2,541 C446.4,547 448.5,549.8 453.5,550 L520,547.6 L600,546.2 L664,545.4"/>
<!-- handles -->
<g transform="rotate(-2 385.6 575.0)"><ellipse cx="385.6" cy="575.0" rx="25.0" ry="10.2" fill="none" stroke="#111" stroke-width="1.7"/><path class="k2" style="stroke-width:2" d="M360.7,575.1 L364.6,573.9 L370.0,572.9 L389.1,572.1 L394.1,571.0 L401.6,571.5 L408.8,572.4 L409.9,575.1 M360.7,575.9 L363.1,578.3 L366.2,580.0 L369.5,580.6 L370.0,577.8 L389.1,577.0 L394.1,578.9 L399.6,578.5 L405.0,577.8 L408.8,576.2 L409.9,575.1"/><path class="k2" style="stroke-width:1.7" d="M391.3,565.8 L393.6,584.9 M393.8,565.5 L396.2,584.7"/><path class="k" style="stroke-width:1.2" d="M398.4,574.0 L398.4,577.8"/></g>
<g transform="rotate(-2 472.0 571.3)"><ellipse cx="472.0" cy="571.3" rx="26.5" ry="10.7" fill="none" stroke="#111" stroke-width="1.7"/><path class="k2" style="stroke-width:2" d="M447.1,571.4 L451.0,570.2 L456.4,569.2 L475.5,568.4 L480.5,567.3 L488.0,567.8 L495.2,568.7 L496.3,571.4 M447.1,572.2 L449.5,574.6 L452.6,576.3 L455.9,576.9 L456.4,574.1 L475.5,573.3 L480.5,575.2 L486.0,574.8 L491.4,574.1 L495.2,572.5 L496.3,571.4"/><path class="k2" style="stroke-width:1.7" d="M477.7,562.1 L480.0,581.2 M480.2,561.8 L482.6,581.0"/><path class="k" style="stroke-width:1.2" d="M484.8,570.3 L484.8,574.1"/></g>
<!-- crease thin line -->
<path class="t" d="M127.5,605 L160,601.2 L217.5,596.5 L300,591.5 L360,588 L427,585.2 L520,582.5 L600,580.6 L640,579.8"/>
</g>

<!-- 23_rear.svg -->
<g id="rear">
<!-- sliding door rear edge -->
<path class="k2" d="M663,425 L665,445 L667,475 L668,530 L671.2,551.5 L674,573 L674.4,594.5 L673.4,620 L672.3,637.5 L670,660 L666.9,680.5 L663.1,703 L659.4,727.5 L658.8,735 C658.6,737.6 657.6,738.4 655,738.4 L432,738.4"/>
<path class="k" d="M660.5,428 L661.3,445 L663.6,480 L665,528 L666.4,549"/>
<!-- roof lines right of door -->
<path class="k" d="M665,428.8 L700,431.2 L760,435.4 L800,439.6 L840,444.6 L865,449.6 L890,456.8"/>
<path class="t" d="M840,438.8 L860,441.2 L881,444.4 M840,453 L865,455.4 L895,458.8"/>
<!-- rear window -->
<path class="k3" d="M667.5,443.8 L700,445.2 L756,449.4 L800,452.8 L840,455 C852,456.2 862,459 871.3,465 C877,470 881,475 883.8,480 L896.3,503.8 L905,528 L910.3,543 C911.5,548.5 909,552.4 903,553 L860,553.4 L760,552 L700,550.2 L671,549.2"/>
<path class="k" d="M670,447 L700,448.4 L756,452.6 L800,456 L838,458.2 C850,459.4 859,462 868,468 C873,472 877,477 880.5,483 L893,506 L902,529 L907,543 C908,547 906,549.4 901,549.8 L860,550 L760,548.8 L700,547 L671,546"/>
<!-- beltline & rail -->
<path class="k2" d="M674,572.6 L760,572.2 L860,571.4 L927.5,571"/>
<path class="m" d="M674.2,578.4 L760,578.2 L927.5,578"/>
<path class="k2" d="M674.4,590.4 L700,589.6 L760,588.8 L860,587.6 L873,587.6 C876,588 877,590.4 877.8,592.8"/>
<path class="k2" d="M674.4,594.6 L700,594 L760,593.4 L877.8,592.8 L927.5,592.8"/>
<path class="k" d="M674.4,592.6 L700,591.8 L760,591 L870,590.2" style="stroke:#999"/>
<!-- roof end & spoiler -->
<path class="k2" d="M840,433.8 L892.5,436.3 L913.8,441.3"/>
<path class="k2" d="M897.5,432.2 L915,431.4 L916,436.4 L898.5,437 Z M901,433.6 L912,433.2"/>
<path class="k3" d="M890,432 L897.5,433 M916,435 L930,436.6 L942.3,438.9"/>
<path class="k2" d="M930,436.9 L936.3,455 L940,458.8 L943.2,455 L942.4,439"/>
<!-- D pillar -->
<path class="k2" d="M913.8,441.3 L917.5,462.5 L921.3,487.5 L925,512.5 L928,528 L929.4,559.3 L929,580 L927.5,603 L925,628 L923.8,636.8"/>
<!-- body vertical seam at 923 -->
<path class="k2" d="M923.5,470 L923.3,636 C923,642 921.5,646 918,649.5 C914,653 908,654.6 897.5,655.4 L880,655.4"/>
<!-- tailgate closed profile -->
<path class="k2" d="M942.5,457.5 L951,492 L960,528 L963.8,553 L966.3,578 L966.9,603 L965,628 L963.8,635.5"/>
<path class="k" d="M938.8,460 L946,496 L950,528 L957.5,559.3 L961.3,569.3" stroke-dasharray="5 1.2"/>
<path class="gt" d="M927.5,447.5 C934,470 940,500 943.8,528 C946,545 948,556 950,566"/>
<!-- handle -->
<path class="k" d="M961.3,569.3 L966.5,570.4 L967.5,595.5 L963.5,594 Z M964.5,581 L967,581.4"/>
<ellipse class="k2" cx="970.3" cy="572.6" rx="3.2" ry="7.6"/>
<path class="k" d="M966.8,570 L969,566.4 M967,575.6 L968.5,577"/>
<!-- tail lamp -->
<path class="k2" d="M929.4,558 C934,558.6 938,560 941.3,561.8 C945,563.6 948,565.6 950,568 C952.6,571 954,574.6 954.4,578 L955.6,603 L956.3,635.5"/>
<path class="gt" d="M931,562 C938,563 944,566 948,571 C951,576 951.6,582 952,590 L952.6,620"/>
<path class="k" d="M929.4,621 L955.8,621 M928,628 L956,628"/>
<path class="k2" d="M924.4,635.8 L963.8,635.6"/>
<!-- bumper -->
<path class="k2" d="M963.8,635.6 L960,640 L958.8,652.5 L959.4,671.3 L962.5,690 L963.8,702.5 C964.5,707 965,710 966.3,711.3 L971.3,713.8 L972.5,720 L971.3,737.5 L968.8,740.6"/>
<path class="k" d="M956.3,636 L955,640 L953.8,671.3 L957.5,690 L961.3,702.5 L965,711"/>
<path class="k3" d="M968.8,740.6 C962,742.4 955,743.2 947.5,743.8 L910,746.3 L860,747.5 L847.5,748"/>
<path class="k" d="M700,746.4 L970.6,746.5" stroke-dasharray="7 3"/>
<rect class="k" x="961.3" y="728" width="6.2" height="7"/>
<path class="m" d="M847.5,682.6 L880,682 L910,681.3 C918,681.6 924,683.5 928.8,686.3 C936,690.5 942,694.5 947.5,698.8 C953,703 957,707.5 960,711.3 L966,717.5"/>
<path class="gt" d="M850,727.2 L900,726.2 L937.5,725.6"/>
</g>

<!-- 24_sill.svg -->
<g id="sill">
<!-- sill top -->
<path d="M209.4,728 L320,726.3 L426,727.2 L560,727.4 L668.8,728" class="k3" style="stroke-width:3.2"/>
<path class="t" d="M197.5,731.2 L320,729.8 L426,730.8"/>
<!-- sill bottom -->
<path class="k3" d="M197.5,743 L320,741.9 L440,741.6 L560,740.8 L680,741.2"/>
<path class="k2" d="M197.5,743 L198.8,749.4 L240,747.6 L320,746.3 L400,745.2 L440,745 C452,746 458,747.4 470,747.4 L560,746.8 L646,747.4"/>
<path class="k" d="M646.3,747.5 L650,754.4 L667.5,754.4 L670.6,748 M670.6,748 L680,747"/>
<path class="k" d="M60,746.3 L700,746.3" stroke-dasharray="7 3" style="stroke-width:1"/>
<!-- thin lines lower door -->
<path class="t" d="M218.8,702.5 L320,700 L426,698.4"/>
<path class="t" d="M430,697.6 L560,692.5 L668.8,690.2"/>
<!-- ramp lines -->
<path class="d" d="M115,783 L615,724.4"/>
<path class="d" d="M440,746.4 L763,798.3"/>
</g>
<g id="underbody">
<path class="k" d="M672.5,746.3 L677.5,748 L696.3,749.4 M670,756.3 L683.8,758.8 L700,761.3 M668,754.4 L672,753 L675,750.6"/>
<path class="k" d="M682.5,733 L693,732.4 M683,734.6 L692.5,738 M682.5,740.4 L693,739"/>
<path class="t" d="M676,752.4 L694,753.6"/>
</g>

<!-- 25_arches.svg -->
<g id="arches">
<!-- front arch thick -->
<path class="k2" d="M34,745.5 L34.3,728 C34.4,722 34.5,718 34.9,711.8 C36,703 37.5,697 40.4,689.8 C44,679 48.5,670 55,662 C60.5,655.5 66.5,651 73.5,647.5 C79.5,644 85.5,641.6 91.8,640 C99,638.2 106,637.5 113.9,637.5 C122,637.5 130,638.3 137.8,640 C146,641.8 153,644.2 160,647.5 C168,652 174,659 179,667 C184,676 187.5,684 189.5,693 C191.5,703 192.3,712 192.5,722.5 L197.3,743"/>
<!-- front arch outer: gray left, dark thin right -->
<path class="m" d="M30.3,686 C32,681 34,676 36.7,671.4 C41.5,662.5 47.5,655.5 55,649.4 C60.5,644.3 66.5,640 73.5,636.5 C79.5,633.6 85.5,631.4 91.8,630 C99,628.2 106,627.3 113.9,627.3 C122,627.3 130,628.2 137.8,630 C146,632 153,634.6 160,638.4"/>
<path class="t" d="M160,638.4 C170,644 178,651.5 185,661 C192,671.5 197,683 200.5,697 C203.5,710 205.5,722 206.3,731 L207,741.5"/>
<path class="t" d="M166,646 C178,655 188,668 194,684 C198,696 200,710 201,722 L202,742" style="stroke:#888"/>
<!-- front bumper bottom -->
<path class="k2" d="M0,746.8 L33.5,746.8 L34,728.4"/>
<path class="t" d="M0,728.4 L33.5,728.4" style="stroke:#222;stroke-width:1.2"/>
<path class="m" d="M0,742.6 L33,742.6" style="stroke:#b5b5b5"/>
<path class="k" d="M0,627.3 L18.4,620" />
<!-- rear arch thick -->
<path class="k2" d="M680.4,742.5 L680.8,738 C681.3,733 681.8,730 682.3,727 C683.5,716 686,705.5 690,696 C695,684.5 702,675 711,667.5 C720,660 730,655 741,652.2 C747.5,651 754,650.6 761.4,650.6 C771,650.7 780,652 789,655.2 C795.5,657.5 801,660 806.1,663 C814,668.5 820,676 825,685.3 C830,694 834,704 838.8,716.3 C842,726 844.5,736 846.5,747.2"/>
<!-- rear arch outer thin -->
<path class="t" d="M671.3,740 C671.4,734 672,728.5 672.9,723 C673.8,713.5 675,705 677.2,697.3 C681,686 687,676 694.4,668 C702,660 710,654 720.2,649.2 C732,643.5 746,640.5 761.4,640.3 C774,640.4 786,643.6 797.5,649.2 C804,653 809.5,657.5 814.7,663 C821,669 826.5,673 831.9,676.7 C836,682 839.5,687 842.2,692.2"/>
<!-- rear quarter lower body line -->
<path class="k2" d="M806.1,660.4 L830,658.4 L880,655.2"/>
</g>
<g id="caliper-marks">
<path class="k" d="M106.5,648.6 C107.5,645 110,643 113,643.4 L113,650 M105,650.4 L113.5,650.2 M118.5,642.6 L124,641.8 M119,643 C122,644 124.5,646.4 125.4,650.4 M119.5,647 C121,647.4 122,648.6 122.4,650.4"/>
</g>

<!-- 26_mirror.svg -->
<g id="mirror">
<path d="M222.9,554.8 L223.3,547.8 C225,545 227,542.5 229.5,540 C233,536.5 237,533.3 241.3,530.6 C244.5,529.2 247.5,528.5 250.6,528.3 C254.5,528.3 258,528.8 260.8,529.8 C264,531 266.3,533 267.8,535.3 C269.4,538 270.3,541 270.5,544.7 L270.2,556.4 C269.6,559 268.3,560.5 266.3,561.1 L233.4,562.7 C230,562 227.5,560.6 225.6,558.8 Z" fill="#fff" stroke="#111" stroke-width="2" stroke-linejoin="round"/>
<path class="k" d="M223.3,547.8 L240,545.4 L264.7,543.1 M226.4,550.2 L245,548.2 L263.9,546.3 L263.9,548.6 L245,550.2 L226.8,551.8 Z M224,554 L245,553 L267.8,551.7"/>
<path class="k2" d="M264.7,533.8 C266.6,537 267.8,540.5 268.2,544.7 L267.8,558.8"/>
<path class="t" d="M258.4,532.2 C259.8,534 260.6,535.8 260.8,537.7"/>
<!-- stalk -->
<path class="k2" d="M242.8,494.5 L242,528.3 M247.5,494 L248.3,527.5"/>
<!-- steering wheel -->
<path d="M264.7,513.4 C265.4,511.6 267,510.8 268.6,511.1 C270.4,511.2 271.8,512 272.5,513.4 L298.3,554.8 L288.1,554.8 L277.2,538.4 L271.7,538.4 L276.4,535.3 Z" fill="#fff" stroke="#111" stroke-width="1.9" stroke-linejoin="round"/>
<path class="t" d="M278.8,541.6 L283.4,550.2 L281.6,550.8 L277.4,543 Z" style="stroke:#888"/>
</g>

<line class="d" x1="457.50" y1="255.00" x2="457.50" y2="507.50"/>
<line class="d" x1="923.50" y1="255.00" x2="923.50" y2="640.00"/>
<line class="d" x1="457.40" y1="265.50" x2="924.00" y2="265.50"/>
<polygon class="a" points="457.4,265.5 476.9,260.3 476.9,270.7"/>
<polygon class="a" points="924.0,265.5 904.5,260.3 904.5,270.7"/>
<text x="667.00" y="259.50" textLength="46.40" lengthAdjust="spacing">2335</text>
<line class="d" x1="657.50" y1="293.00" x2="657.50" y2="525.00"/>
<line class="d" x1="657.60" y1="303.50" x2="924.00" y2="303.50"/>
<polygon class="a" points="657.6,303.5 677.1,298.3 677.1,308.7"/>
<polygon class="a" points="924.0,303.5 904.5,298.3 904.5,308.7"/>
<text x="768.75" y="297.00" textLength="43.75" lengthAdjust="spacing">1414</text>
<line class="d" x1="837.50" y1="332.00" x2="837.50" y2="523.00"/>
<line class="d" x1="837.60" y1="341.50" x2="924.00" y2="341.50"/>
<polygon class="a" points="837.6,341.5 857.1,336.3 857.1,346.7"/>
<polygon class="a" points="924.0,341.5 904.5,336.3 904.5,346.7"/>
<text x="862.50" y="335.00" textLength="35.00" lengthAdjust="spacing">518</text>
<line class="d" x1="1063.75" y1="380.50" x2="1232.00" y2="380.50"/>
<line class="d" x1="1223.50" y1="380.50" x2="1223.50" y2="798.25"/>
<polygon class="a" points="1223.5,380.5 1218.3,400.0 1228.7,400.0"/>
<polygon class="a" points="1223.5,798.2 1218.3,778.8 1228.7,778.8"/>
<text transform="translate(1219.40 611.00) rotate(-90)" x="0" y="0" textLength="46.00" lengthAdjust="spacing">2177</text>
<line class="d" x1="1186.50" y1="396.00" x2="1186.50" y2="988.00"/>
<line class="d" x1="1106.00" y1="414.50" x2="1155.00" y2="414.50" style="stroke-width:1.6"/>
<line class="d" x1="1146.50" y1="414.50" x2="1146.50" y2="798.25"/>
<polygon class="a" points="1146.5,414.5 1141.3,434.0 1151.7,434.0"/>
<polygon class="a" points="1146.5,798.2 1141.3,778.8 1151.7,778.8"/>
<text transform="translate(1142.80 628.00) rotate(-90)" x="0" y="0" textLength="46.25" lengthAdjust="spacing">2012</text>
<line class="d" x1="761.00" y1="702.50" x2="1116.00" y2="702.50"/>
<line class="d" x1="1108.50" y1="702.00" x2="1108.50" y2="798.25"/>
<polygon class="a" points="1108.5,702.0 1103.3,721.5 1113.7,721.5"/>
<polygon class="a" points="1108.5,798.2 1103.3,778.8 1113.7,778.8"/>
<text transform="translate(1103.80 766.00) rotate(-90)" x="0" y="0" textLength="33.50" lengthAdjust="spacing">575</text>
<line class="d" x1="761.00" y1="798.50" x2="1232.00" y2="798.50" style="stroke-width:1.5"/>
<line class="d" x1="660.50" y1="798.50" x2="761.00" y2="798.50" style="stroke:#777;stroke-width:0.9"/>
<line class="d" x1="0.00" y1="783.50" x2="114.00" y2="783.50" style="stroke-width:1.5"/>
<line class="d" x1="114.00" y1="783.50" x2="215.50" y2="783.50" style="stroke:#777;stroke-width:0.9"/>
<line class="d" x1="114.50" y1="783.00" x2="114.50" y2="911.00"/>
<line class="d" x1="761.50" y1="435.80" x2="761.50" y2="911.00"/>
<line class="d" x1="972.50" y1="717.50" x2="972.50" y2="948.50"/>
<line class="d" x1="0.00" y1="902.50" x2="972.50" y2="902.50"/>
<polygon class="a" points="114.5,902.5 95.0,897.3 95.0,907.7"/>
<polygon class="a" points="114.5,902.5 134.0,897.3 134.0,907.7"/>
<polygon class="a" points="761.5,902.5 742.0,897.3 742.0,907.7"/>
<polygon class="a" points="761.5,902.5 781.0,897.3 781.0,907.7"/>
<polygon class="a" points="972.5,902.5 953.0,897.3 953.0,907.7"/>
<text x="7.00" y="895.50" textLength="34.00" lengthAdjust="spacing">895</text>
<text x="413.25" y="896.00" textLength="47.50" lengthAdjust="spacing">3200</text>
<text x="845.00" y="896.00" textLength="44.50" lengthAdjust="spacing">1045</text>
<line class="d" x1="0.00" y1="940.50" x2="972.50" y2="940.50"/>
<polygon class="a" points="972.5,940.5 953.0,935.3 953.0,945.7"/>
<text x="429.50" y="935.00" textLength="47.50" lengthAdjust="spacing">5140</text>
<line class="d" x1="0.00" y1="980.50" x2="1186.00" y2="980.50"/>
<polygon class="a" points="1186.0,980.5 1166.5,975.3 1166.5,985.7"/>
<text x="535.50" y="974.00" textLength="46.50" lengthAdjust="spacing">6187</text>
<line class="d" x1="751.00" y1="435.50" x2="769.00" y2="435.50"/>
<polygon class="a" points="761.5,435.8 756.3,455.3 766.7,455.3"/>
<text transform="translate(756.80 588.40) rotate(-90)" x="0" y="0" textLength="44.00" lengthAdjust="spacing">1326</text>
<line class="d" x1="580.50" y1="449.50" x2="580.50" y2="702.00"/>
<line class="d" x1="572.00" y1="449.50" x2="586.00" y2="449.50"/>
<line class="d" x1="571.00" y1="702.50" x2="586.00" y2="702.50"/>
<polygon class="a" points="580.5,449.5 575.3,469.0 585.7,469.0"/>
<polygon class="a" points="580.5,702.0 575.3,682.5 585.7,682.5"/>
<text transform="translate(577.00 575.00) rotate(-90)" x="0" y="0" textLength="43.75" lengthAdjust="spacing">1220</text>
<text transform="translate(598.00 647.50) rotate(-90)" x="0" y="0" textLength="187.50" lengthAdjust="spacing" style="font-size:19.6px">(clear height of door)</text>
<line class="d" x1="439.50" y1="652.50" x2="640.50" y2="652.50"/>
<line class="d" x1="439.50" y1="641.00" x2="439.50" y2="661.00"/>
<line class="d" x1="640.50" y1="641.00" x2="640.50" y2="661.00"/>
<polygon class="a" points="439.5,652.5 459.0,647.3 459.0,657.7"/>
<polygon class="a" points="640.5,652.5 621.0,647.3 621.0,657.7"/>
<text x="523.00" y="646.25" textLength="34.00" lengthAdjust="spacing">837</text>
<text x="448.75" y="666.25" textLength="182.50" lengthAdjust="spacing" style="font-size:19.6px">(clear width of door)</text>
<text x="620.00" y="769.40" textLength="47.00" lengthAdjust="spacing">11.6°</text>
<path class="d" d="M606.3,727 C607.6,742 607,758 603.8,773.6"/>
<polygon class="a" points="606.3,726.9 601.6,745.8 611.4,745.4"/>
<polygon class="a" points="603.8,773.8 601.2,754.4 611,755"/>
<path class="d" d="M1000.6,729.4 A237.2,237.2 0 0 1 1010,798"/>
<polygon class="a" points="1000.4,729.2 1001.6,749.4 1011.2,746.6"/>
<polygon class="a" points="1010,798.2 1004.8,779 1015,778.8"/>
<line class="d" x1="775.00" y1="797.50" x2="1010.00" y2="726.20"/>
<line class="d" x1="0.00" y1="751.00" x2="104.40" y2="783.00"/>
<text x="1019.50" y="764.50" textLength="49.25" lengthAdjust="spacing">13.8°</text>
</svg>
</body></html>
